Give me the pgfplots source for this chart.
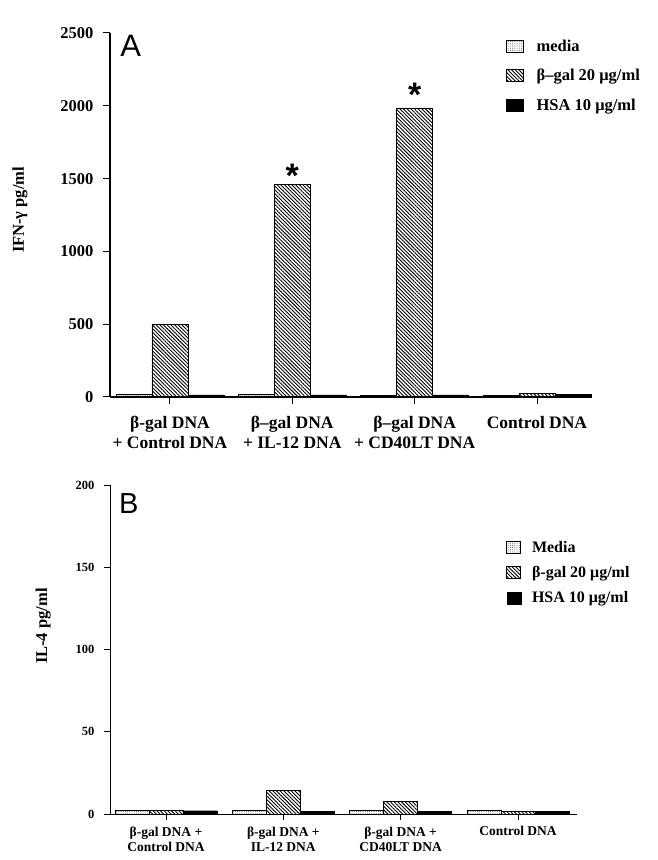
\documentclass[border=0pt]{standalone}
\usepackage{fontspec}
\setmainfont{Liberation Serif}
\newfontfamily\sansf{Liberation Sans}
\usepackage{pgfplots}
\pgfplotsset{compat=1.18}
\usetikzlibrary{patterns,patterns.meta}

\pgfplotsset{
  panel/.style={
    scale only axis, anchor=south west,
    axis lines*=left, tick align=outside,
    ybar=0pt, clip=false,
    xtick={0,1,2,3},
    /pgf/number format/assume math mode=true,
    /pgf/number format/1000 sep={},
    xticklabel style={align=center},
    legend cell align=left,
    legend style={draw=none, fill=none, anchor=north west},
  },
  media/.style={draw=black, line width=0.5pt,
    pattern={Dots[distance=2.2pt, radius=0.5pt]}, pattern color=black!70},
  bgal/.style={draw=black, line width=0.6pt,
    pattern={Lines[angle=-45, distance=2.6pt, line width=0.9pt]}, pattern color=black},
  hsa/.style={draw=black, fill=black},
}

\begin{document}
\begin{tikzpicture}
\useasboundingbox (0,0) rectangle (658pt,860pt);

% panel A: IFN-gamma
\begin{axis}[panel,
  at={(110pt,463pt)}, width=479pt, height=364pt,
  xmin=-0.49, xmax=3.425, ymin=0, ymax=2500,
  ytick={0,500,1000,1500,2000,2500},
  bar width=36pt,
  axis line style={line width=1.2pt},
  major tick length=7pt,
  tick style={line width=1pt, black},
  yticklabel style={font=\bfseries\fontsize{16.5}{17}\selectfont, xshift=-6pt},
  xticklabel style={font=\bfseries\fontsize{17.5}{20}\selectfont, yshift=-9pt},
  xticklabels={{β-gal DNA\\+ Control DNA},{β–gal DNA\\+ IL-12 DNA},{β–gal DNA\\+ CD40LT DNA},{Control DNA}},
  ylabel={IFN-γ pg/ml},
  ylabel style={at={(axis description cs:-0.188,0.514)}, anchor=center, font=\bfseries\fontsize{16.5}{17}\selectfont},
  legend style={at={(axis description cs:0.82,0.993)}, row sep=12.5pt,
    font=\bfseries\fontsize{16.5}{17}\selectfont,
    /tikz/every odd column/.append style={column sep=11pt}},
  legend image code/.code={\draw[#1] (0pt,-6pt) rectangle (17pt,6pt);},
]
\addplot[media] coordinates {(0,18) (1,18) (2,14) (3,14)};
\addplot[bgal] coordinates {(0,497) (1,1460) (2,1985) (3,22)};
\addplot[hsa] coordinates {(0,14) (1,14) (2,14) (3,16)};
\legend{media, β–gal 20 μg/ml, HSA 10 μg/ml}
\node[font=\sansf\bfseries\fontsize{34}{34}\selectfont, anchor=base] at (axis cs:1,1440) {*};
\node[font=\sansf\bfseries\fontsize{34}{34}\selectfont, anchor=base] at (axis cs:2,1995) {*};
\node[font=\sansf\fontsize{31}{31}\selectfont, anchor=center] at (axis description cs:0.043,0.965) {A};
\end{axis}

% panel B: IL-4
\begin{axis}[panel,
  at={(110pt,46pt)}, width=467pt, height=329pt,
  xmin=-0.477, xmax=3.503, ymin=0, ymax=200,
  ytick={0,50,100,150,200},
  bar width=34pt,
  axis line style={line width=0.8pt},
  major tick length=6pt,
  tick style={line width=0.8pt, black},
  yticklabel style={font=\bfseries\fontsize{12.5}{13}\selectfont, xshift=-6pt},
  xticklabel style={font=\bfseries\fontsize{13.5}{15.5}\selectfont, yshift=-3pt},
  xticklabels={{β-gal DNA +\\Control DNA},{β-gal DNA +\\IL-12 DNA},{β-gal DNA +\\CD40LT DNA},{Control DNA}},
  ylabel={IL-4 pg/ml},
  ylabel style={at={(axis description cs:-0.143,0.571)}, anchor=center, font=\bfseries\fontsize{16.5}{17}\selectfont},
  legend style={at={(axis description cs:0.842,0.842)}, row sep=8.5pt,
    font=\bfseries\fontsize{16}{17}\selectfont,
    /tikz/every odd column/.append style={column sep=9pt}},
  legend image code/.code={\draw[#1] (0pt,-6pt) rectangle (14pt,6pt);},
]
\addplot[media] coordinates {(0,2) (1,2) (2,2) (3,2)};
\addplot[bgal] coordinates {(0,2) (1,14.2) (2,7.7) (3,1.5)};
\addplot[hsa] coordinates {(0,2) (1,1.8) (2,1.8) (3,1.8)};
\legend{Media, β-gal 20 μg/ml, HSA 10 μg/ml}
\node[font=\sansf\fontsize{29}{29}\selectfont, anchor=center] at (axis description cs:0.04,0.945) {B};
\end{axis}
\end{tikzpicture}
\end{document}
